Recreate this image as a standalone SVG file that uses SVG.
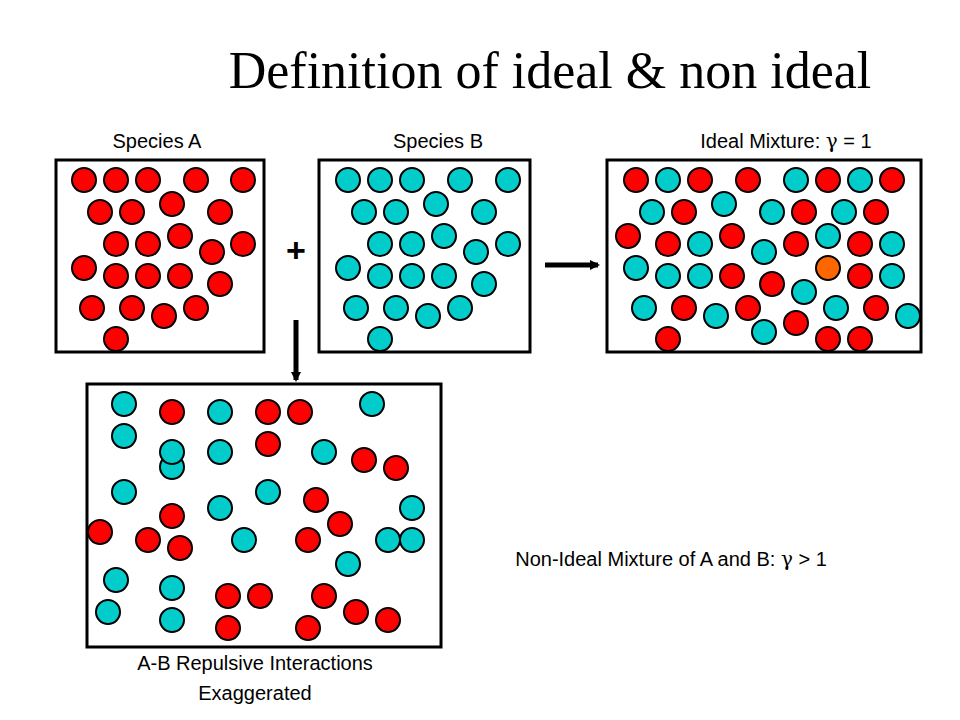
<svg xmlns="http://www.w3.org/2000/svg" width="960" height="720" viewBox="0 0 960 720">
<style>
.r{fill:#f00;stroke:#000;stroke-width:2}
.c{fill:#0cc;stroke:#000;stroke-width:2}
.o{fill:#f60;stroke:#000;stroke-width:2}
.box{fill:#fff;stroke:#000;stroke-width:3}
.t{font-family:"Liberation Sans",Arial,sans-serif;font-size:20px;fill:#000}
</style>
<defs>
<marker id="ah" markerWidth="10" markerHeight="10" refX="8" refY="5" orient="auto" markerUnits="userSpaceOnUse"><path d="M0,0 L10,5 L0,10 Z" fill="#000"/></marker>
<g id="R"><circle r="12" class="r"/></g>
</defs>
<rect width="960" height="720" fill="#fff"/>
<text x="550" y="88" text-anchor="middle" font-family="Liberation Serif,Times New Roman,serif" font-size="52">Definition of ideal &amp; non ideal</text>
<text class="t" x="157" y="148" text-anchor="middle">Species A</text>
<text class="t" x="438" y="148" text-anchor="middle">Species B</text>
<text class="t" x="786" y="148" text-anchor="middle">Ideal Mixture: <tspan font-family="DejaVu Serif,serif">γ</tspan> = 1</text>
<text class="t" x="671" y="566" text-anchor="middle">Non-Ideal Mixture of A and B: <tspan font-family="DejaVu Serif,serif">γ</tspan> &gt; 1</text>
<text class="t" x="255" y="670" text-anchor="middle">A-B Repulsive Interactions</text>
<text class="t" x="255" y="700" text-anchor="middle">Exaggerated</text>
<text x="296" y="262" text-anchor="middle" font-family="Liberation Sans,Arial,sans-serif" font-size="34" font-weight="bold">+</text>
<g id="connectors" stroke="#000" stroke-width="5">
<line x1="545" y1="265" x2="598" y2="265" marker-end="url(#ah)"/>
<line x1="296" y1="320" x2="296" y2="380" marker-end="url(#ah)"/>
</g>
<g id="speciesA">
<rect class="box" x="56" y="160" width="208" height="192"/>
<g class="r">
<circle cx="84" cy="180" r="12"/><circle cx="116" cy="180" r="12"/><circle cx="148" cy="180" r="12"/><circle cx="196" cy="180" r="12"/><circle cx="243" cy="180" r="12"/>
<circle cx="100" cy="212" r="12"/><circle cx="132" cy="212" r="12"/><circle cx="172" cy="204" r="12"/><circle cx="220" cy="212" r="12"/>
<circle cx="116" cy="244" r="12"/><circle cx="148" cy="244" r="12"/><circle cx="180" cy="236" r="12"/><circle cx="212" cy="252" r="12"/><circle cx="243" cy="244" r="12"/>
<circle cx="84" cy="268" r="12"/><circle cx="116" cy="276" r="12"/><circle cx="148" cy="276" r="12"/><circle cx="180" cy="276" r="12"/><circle cx="220" cy="284" r="12"/>
<circle cx="92" cy="308" r="12"/><circle cx="132" cy="308" r="12"/><circle cx="164" cy="316" r="12"/><circle cx="196" cy="308" r="12"/>
<circle cx="116" cy="339" r="12"/>
</g>
</g>
<g id="speciesB">
<rect class="box" x="319" y="160" width="211" height="192"/>
<g class="c">
<circle cx="348" cy="180" r="12"/><circle cx="380" cy="180" r="12"/><circle cx="412" cy="180" r="12"/><circle cx="460" cy="180" r="12"/><circle cx="508" cy="180" r="12"/>
<circle cx="364" cy="212" r="12"/><circle cx="396" cy="212" r="12"/><circle cx="436" cy="204" r="12"/><circle cx="484" cy="212" r="12"/>
<circle cx="380" cy="244" r="12"/><circle cx="412" cy="244" r="12"/><circle cx="444" cy="236" r="12"/><circle cx="476" cy="252" r="12"/><circle cx="508" cy="244" r="12"/>
<circle cx="348" cy="268" r="12"/><circle cx="380" cy="276" r="12"/><circle cx="412" cy="276" r="12"/><circle cx="444" cy="276" r="12"/><circle cx="484" cy="284" r="12"/>
<circle cx="356" cy="308" r="12"/><circle cx="396" cy="308" r="12"/><circle cx="428" cy="316" r="12"/><circle cx="460" cy="308" r="12"/>
<circle cx="380" cy="339" r="12"/>
</g>
</g>
<g id="idealMixture">
<rect class="box" x="607" y="160" width="314" height="192"/>
<g class="r">
<circle cx="636" cy="180" r="12"/><circle cx="700" cy="180" r="12"/><circle cx="748" cy="180" r="12"/><circle cx="828" cy="180" r="12"/><circle cx="892" cy="180" r="12"/>
<circle cx="684" cy="212" r="12"/><circle cx="804" cy="212" r="12"/><circle cx="876" cy="212" r="12"/>
<circle cx="628" cy="236" r="12"/><circle cx="668" cy="244" r="12"/><circle cx="732" cy="236" r="12"/><circle cx="796" cy="244" r="12"/><circle cx="860" cy="244" r="12"/>
<circle cx="732" cy="276" r="12"/><circle cx="772" cy="284" r="12"/><circle cx="860" cy="276" r="12"/>
<circle cx="684" cy="308" r="12"/><circle cx="748" cy="308" r="12"/><circle cx="876" cy="308" r="12"/>
<circle cx="668" cy="339" r="12"/><circle cx="796" cy="323" r="12"/><circle cx="828" cy="339" r="12"/><circle cx="860" cy="339" r="12"/>
</g>
<g class="c">
<circle cx="668" cy="180" r="12"/><circle cx="796" cy="180" r="12"/><circle cx="860" cy="180" r="12"/>
<circle cx="652" cy="212" r="12"/><circle cx="724" cy="204" r="12"/><circle cx="772" cy="212" r="12"/><circle cx="844" cy="212" r="12"/>
<circle cx="700" cy="244" r="12"/><circle cx="764" cy="252" r="12"/><circle cx="828" cy="236" r="12"/><circle cx="892" cy="244" r="12"/>
<circle cx="636" cy="268" r="12"/><circle cx="668" cy="276" r="12"/><circle cx="700" cy="276" r="12"/><circle cx="892" cy="276" r="12"/>
<circle cx="644" cy="308" r="12"/><circle cx="716" cy="316" r="12"/><circle cx="804" cy="292" r="12"/><circle cx="836" cy="308" r="12"/><circle cx="908" cy="316" r="12"/>
<circle cx="764" cy="332" r="12"/>
</g>
<circle class="o" cx="828" cy="268" r="12"/>
</g>
<g id="nonIdealMixture">
<rect class="box" x="87" y="384" width="354" height="263"/>
<g class="c">
<circle cx="124" cy="404" r="12"/><circle cx="220" cy="412" r="12"/><circle cx="372" cy="404" r="12"/>
<circle cx="124" cy="436" r="12"/><circle cx="172" cy="467" r="12"/><circle cx="172" cy="452" r="12"/><circle cx="220" cy="452" r="12"/><circle cx="324" cy="452" r="12"/>
<circle cx="124" cy="492" r="12"/><circle cx="268" cy="492" r="12"/><circle cx="220" cy="508" r="12"/><circle cx="412" cy="508" r="12"/>
<circle cx="244" cy="540" r="12"/><circle cx="388" cy="540" r="12"/><circle cx="412" cy="540" r="12"/><circle cx="348" cy="564" r="12"/>
<circle cx="116" cy="580" r="12"/><circle cx="172" cy="588" r="12"/><circle cx="108" cy="612" r="12"/><circle cx="172" cy="620" r="12"/>
</g>
<g class="r">
<circle cx="172" cy="412" r="12"/><circle cx="268" cy="412" r="12"/><circle cx="300" cy="412" r="12"/>
<circle cx="268" cy="444" r="12"/><circle cx="364" cy="460" r="12"/><circle cx="396" cy="468" r="12"/>
<circle cx="316" cy="500" r="12"/><circle cx="172" cy="516" r="12"/><circle cx="340" cy="524" r="12"/>
<circle cx="100" cy="532" r="12"/><circle cx="148" cy="540" r="12"/><circle cx="180" cy="548" r="12"/><circle cx="308" cy="540" r="12"/>
<circle cx="228" cy="596" r="12"/><circle cx="260" cy="596" r="12"/><circle cx="324" cy="596" r="12"/><circle cx="356" cy="612" r="12"/><circle cx="388" cy="620" r="12"/>
<circle cx="228" cy="628" r="12"/><circle cx="308" cy="628" r="12"/>
</g>
</g>
</svg>
